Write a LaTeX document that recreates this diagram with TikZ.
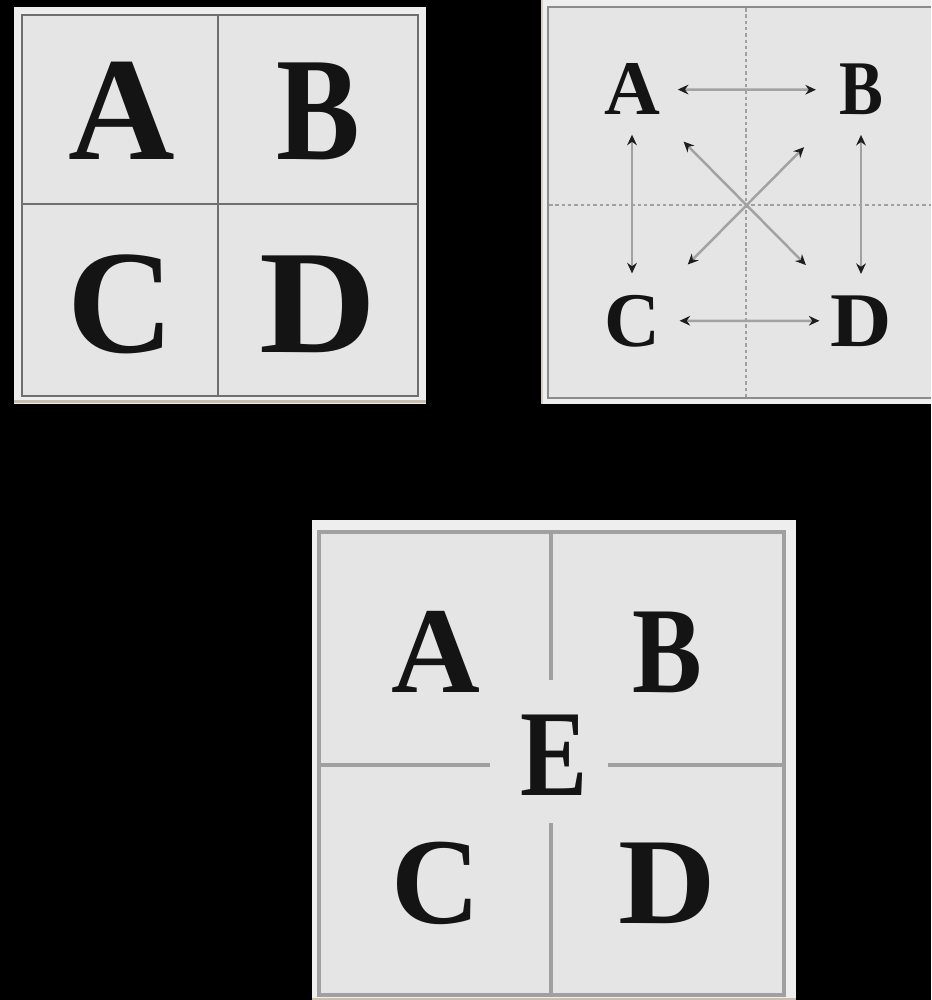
\documentclass[tikz,border=0pt]{standalone}
\usepackage{fontspec}
\usepackage{graphicx}
\setmainfont{Liberation Serif}[BoldFont={Liberation Serif Bold}]
\usetikzlibrary{arrows.meta}
\definecolor{outerbg}{HTML}{EEEEEE}
\definecolor{panelbg}{HTML}{E5E5E5}
\definecolor{frameA}{HTML}{6F6F6F}
\definecolor{frameB}{HTML}{8C8C8C}
\definecolor{frameC}{HTML}{A0A0A0}
\definecolor{tan}{HTML}{C9BFAE}
\definecolor{dashgray}{HTML}{A0A0A0}
\definecolor{arrowgray}{HTML}{A2A2A2}
\definecolor{tipcol}{HTML}{1E1E1E}
\newcommand{\narrowletter}[1]{\scalebox{0.85}[1]{#1}}
\newcommand{\wideletter}[1]{\scalebox{1.1}[1]{#1}}
\tikzset{
  letterbig/.style={inner sep=0pt, anchor=base, font=\fontsize{84}{84}\selectfont\bfseries, text=black!92},
  lettersmall/.style={inner sep=0pt, anchor=base, font=\fontsize{44}{44}\selectfont\bfseries, text=black!92},
  lettermid/.style={inner sep=0pt, anchor=base, font=\fontsize{70}{70}\selectfont\bfseries, text=black!92},
  frameone/.style={draw=frameA, line width=1.5pt},
  frametwo/.style={draw=frameB, line width=1.3pt},
  framethree/.style={draw=frameC, line width=1.9pt},
  guide/.style={draw=dashgray, line width=0.6pt, dash pattern=on 2pt off 1.6pt},
  link/.style={draw=arrowgray, line width=1.4pt,
    {Stealth[length=6pt,width=5.5pt,color=tipcol]}-{Stealth[length=6pt,width=5.5pt,color=tipcol]}}
}
\begin{document}
\begin{tikzpicture}[x=0.02cm, y=-0.02cm]
\useasboundingbox (0,0) rectangle (931,1000);
\fill[black] (0,0) rectangle (931,1000);

% ---------- Panel 1 ----------
\fill[outerbg] (14,7) rectangle (426,404);
\draw[tan, line width=1.5pt] (14,401.5) -- (426,401.5);
\fill[panelbg] (22,15) rectangle (418,396);
\draw[frameone] (22,15) rectangle (418,396);
\draw[frameone] (218,15) -- (218,396);
\draw[frameone] (22,204) -- (418,204);
\node[letterbig] (p1A) at (122,160) {A};
\node[letterbig] (p1B) at (318,160) {\narrowletter{B}};
\node[letterbig] (p1C) at (121,352) {C};
\node[letterbig] (p1D) at (318,352) {\wideletter{D}};

% ---------- Panel 2 ----------
\fill[outerbg] (541,0) rectangle (931,404);
\draw[tan!70!outerbg, line width=1.5pt] (542,0) -- (542,404);
\fill[panelbg] (548,7) rectangle (931,398);
\draw[frametwo] (931,7) -- (548,7) -- (548,398) -- (931,398);
\draw[guide] (746,8) -- (746,397);
\draw[guide] (549,205) -- (931,205);
\node[lettersmall] (p2A) at (632,115) {A};
\node[lettersmall] (p2B) at (861,115) {\narrowletter{B}};
\node[lettersmall] (p2C) at (632,346) {C};
\node[lettersmall] (p2D) at (861,346) {\wideletter{D}};
\draw[link, shorten <=10pt, shorten >=13pt] (p2A) -- (p2B);
\draw[link, shorten <=11pt, shorten >=6pt] (p2C) -- (p2D);
\draw[link, shorten <=11pt, shorten >=12pt] (p2A) -- (p2C);
\draw[link, shorten <=11pt, shorten >=12pt] (p2B) -- (p2D);
\draw[link, shorten <=21pt, shorten >=24pt] (p2A) -- (p2D);
\draw[link, shorten <=28pt, shorten >=24pt] (p2B) -- (p2C);

% ---------- Panel 3 ----------
\fill[outerbg] (312,520) rectangle (796,1000);
\draw[tan, line width=1.2pt] (312,999) -- (796,999);
\fill[panelbg] (319,532) rectangle (784,995);
\draw[framethree] (319,532) rectangle (784,995);
\draw[framethree] (551,532) -- (551,680);
\draw[framethree] (551,823) -- (551,995);
\draw[framethree] (319,765) -- (490,765);
\draw[framethree] (608,765) -- (784,765);
\node[lettermid] (p3A) at (436,692) {A};
\node[lettermid] (p3B) at (667,692) {\narrowletter{B}};
\node[lettermid] (p3E) at (554,795) {\scalebox{0.82}[1]{E}};
\node[lettermid] (p3C) at (436,923) {C};
\node[lettermid] (p3D) at (667,923) {\wideletter{D}};
\end{tikzpicture}
\end{document}
